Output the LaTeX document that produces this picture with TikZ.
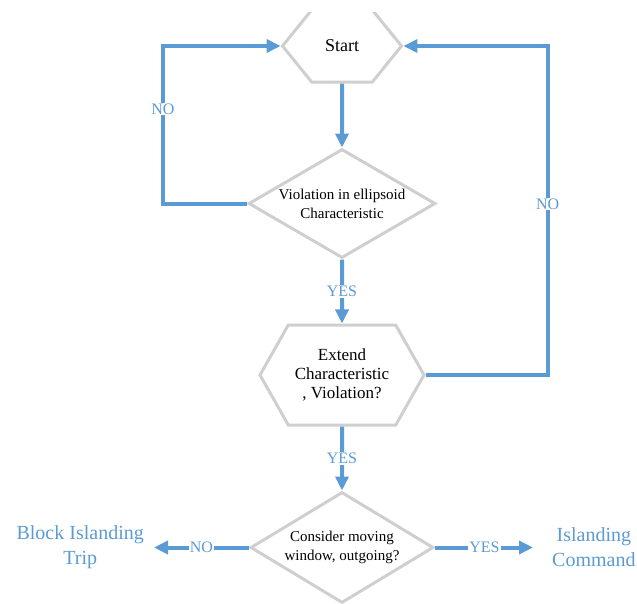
\documentclass[tikz,border=0pt]{standalone}
\usepackage{fontspec}
\setmainfont{Liberation Serif}
\usepackage{xcolor}
\usepackage{tikz}
\usetikzlibrary{shapes.geometric, shapes.symbols, arrows.meta, positioning}
\definecolor{flowblue}{HTML}{5B9BD5}
\definecolor{edgegray}{HTML}{CFCFCF}
\tikzstyle{hexa} = [signal, signal to=west and east,
    draw=edgegray, line width=3pt, align=center,
    inner sep=0pt, font=\fontsize{17}{19}\selectfont]
\tikzstyle{decision} = [diamond, aspect=1.85,
    draw=edgegray, line width=3pt, align=center,
    inner sep=0pt, font=\fontsize{15}{19}\selectfont]
\tikzstyle{outcome} = [text=flowblue, align=center,
    inner xsep=10pt, inner ysep=0pt, font=\fontsize{20}{25}\selectfont]
\tikzstyle{answer} = [text=flowblue, fill=white, inner sep=1pt,
    font=\fontsize{16}{18}\selectfont]
\tikzstyle{arrow} = [draw=flowblue, line width=4pt,
    -{Triangle[length=14pt,width=13pt]}]

\begin{document}
\begin{tikzpicture}[x=1pt, y=-1pt, node distance=64pt]
  \useasboundingbox (0,0) rectangle (637,603);
  \clip (0,12) rectangle (637,603);

  \node (start) [hexa, signal pointer angle=102, minimum width=119pt,
    minimum height=72pt, font=\fontsize{18}{20}\selectfont] at (342,46) {Start};
  \node (viol)  [decision, minimum width=187pt, minimum height=109pt,
    below=of start] {Violation in ellipsoid\\Characteristic};
  \node (ext)   [hexa, signal pointer angle=121, minimum width=164pt,
    minimum height=100pt, below=of viol] {Extend\\Characteristic\\, Violation?};
  \node (move)  [decision, minimum width=183pt, minimum height=111pt,
    below=of ext] {Consider moving\\window, outgoing?};
  \node (block) [outcome, left=95pt of move]  {Block Islanding\\Trip};
  \node (cmd)   [outcome, right=107pt of move] {Islanding\\Command};

  \draw[arrow] (start) -- (viol);
  \draw[arrow] (viol)  -- node[answer] {YES} (ext);
  \draw[arrow] (ext)   -- node[answer] {YES} (move);
  \draw[arrow] (move)  -- node[answer] {NO} (block);
  \draw[arrow, shorten >=9pt] (move) -- node[answer, xshift=-4pt] {YES} (cmd);
  % loops back to the start
  \draw[arrow] (viol.west) -- ++(-84,0) |- node[answer, pos=0.3] {NO} (start.west);
  \draw[arrow] (ext.east) -- ++(122,0) |- node[answer, pos=0.26] {NO} (start.east);
\end{tikzpicture}
\end{document}
